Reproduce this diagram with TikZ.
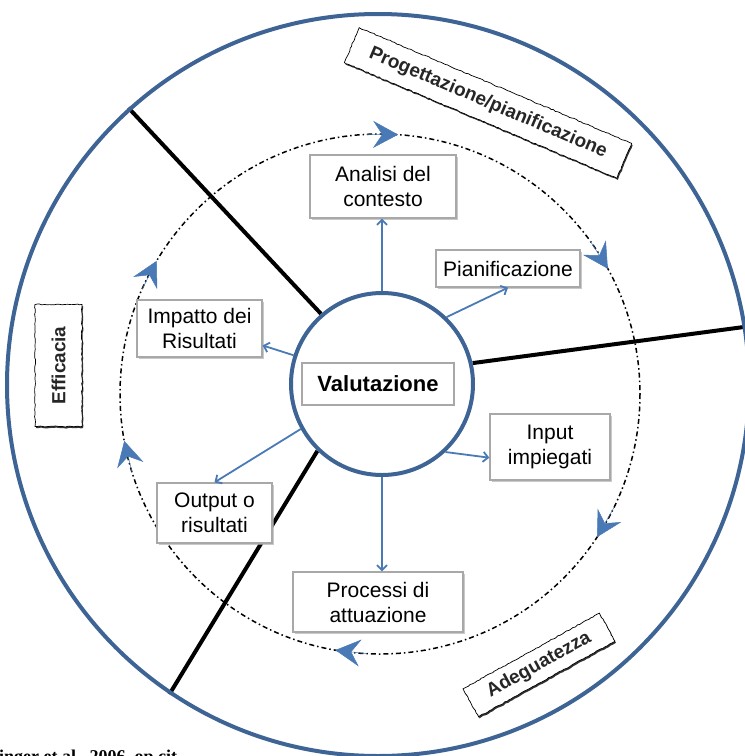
\documentclass[tikz,border=0pt]{standalone}
\usepackage{fontspec}
\setmainfont{Liberation Sans}
\newfontfamily\citefont{Liberation Serif}
\usetikzlibrary{arrows.meta,shadows,decorations.pathmorphing,calc,backgrounds}
\definecolor{ringblue}{HTML}{3D6494}
\definecolor{arrblue}{HTML}{4A7AB6}
\definecolor{boxgray}{HTML}{A8A8A8}
\pgfmathsetseed{7}
\begin{document}
\begin{tikzpicture}[x=1pt,y=-1pt,
  boxnode/.style={draw=boxgray,line width=1.3pt,fill=white,align=center,inner sep=0pt,text=black,
    font=\fontsize{21}{25}\selectfont,
    drop shadow={shadow xshift=2pt,shadow yshift=-2pt,fill=black!30,opacity=0.7}},
  tag/.style={draw=black,line width=0.7pt,fill=white,inner sep=0pt,
    font=\bfseries\fontsize{19}{21}\selectfont,text=black!85,
    decorate,decoration={random steps,segment length=2.5pt,amplitude=0.5pt},
    drop shadow={shadow xshift=1pt,shadow yshift=-1.6pt,fill=black!80,opacity=1}},
  conn/.style={draw=arrblue,line width=1.8pt,-{Straight Barb[length=5pt,width=10pt]}},
  bigtip/.style={draw=arrblue,line width=0.5pt,-{Stealth[length=25pt,width=27pt,inset=9pt,fill=arrblue]}},
  divider/.style={draw=black,line width=4pt},
  ring/.style={draw=ringblue,line width=4pt,circle,inner sep=0pt},
  dashdot/.style={draw=black,line width=1.5pt,dash pattern=on 5pt off 3pt on 1.5pt off 3pt}]
\useasboundingbox (0,0) rectangle (745,756);

% outer ring
\node[ring,minimum size=742pt] (outer) at (378,385) {};
% dash-dot ring
\coordinate (dc) at (380,394);
\draw[dashdot] (dc) circle (260);
% inner circle
\node[ring,fill=white,minimum size=182pt] (vc) at (382,384) {};

% dividers (behind the inner circle)
\begin{scope}[on background layer]
  \draw[divider] (vc.131) -- (outer.132);
  \draw[divider] (vc.13) -- (outer.9.3);
  \draw[divider] (vc.226.6) -- (outer.236);
\end{scope}

% arrow heads on the dash-dot ring (clockwise)
\draw[bigtip] ($(dc)+(-93:260)$) -- ($(dc)+(-86:260)$);
\draw[bigtip] ($(dc)+(-36:260)$) -- ($(dc)+(-28.8:260)$);
\draw[bigtip] ($(dc)+(26:260)$) -- ($(dc)+(33.4:260)$);
\draw[bigtip] ($(dc)+(93:260)$) -- ($(dc)+(99.9:260)$);
\draw[bigtip] ($(dc)+(162.5:260)$) -- ($(dc)+(169.6:260)$);
\draw[bigtip] ($(dc)+(203.8:260)$) -- ($(dc)+(210.8:260)$);

% centre label
\node[draw=boxgray,line width=1.8pt,fill=white,minimum width=152pt,minimum height=42pt,inner sep=0pt,
  font=\bfseries\fontsize{22}{24}\selectfont] (val) at (378,384) {Valutazione};

% boxes
\node[boxnode,minimum width=146pt,minimum height=63pt] (ana) at (383,186.5) {Analisi del\\contesto};
\node[boxnode,minimum width=144pt,minimum height=37pt] (pian) at (508,268.5) {Pianificazione};
\node[boxnode,minimum width=125pt,minimum height=57pt] (imp) at (199.5,328.5) {Impatto dei\\Risultati};
\node[boxnode,minimum width=120pt,minimum height=66pt] (inp) at (550,447) {Input\\impiegati};
\node[boxnode,minimum width=115pt,minimum height=60pt] (out) at (214.5,513) {Output o\\risultati};
\node[boxnode,minimum width=170pt,minimum height=60pt] (proc) at (378,602) {Processi di\\attuazione};

% connectors
\draw[conn] (vc.90) -- (vc.90 |- ana.south);
\draw[conn] (vc.46) -- (pian.south);
\draw[conn] (vc.162) -- (imp.-15);
\draw[conn] (vc.-47.5) -- (inp.190);
\draw[conn] (vc.209.7) -- (out.north);
\draw[conn] (vc.270) -- (vc.270 |- proc.north);

% ring labels
\node[tag,rotate=-23,minimum width=296pt,minimum height=38pt] (prog) at (488,103) {Progettazione/pianificazione};
\node[tag,rotate=90,minimum width=122pt,minimum height=47pt] (eff) at (58.5,365.5) {Efficacia};
\node[tag,rotate=29,minimum width=156pt,minimum height=32pt] (adeg) at (539,665) {Adeguatezza};

% cut-off citation
\node[anchor=base west,inner sep=0pt,font=\citefont\bfseries\fontsize{18}{20}\selectfont] (cite) at (-1,762) {inger et al., 2006, op.cit.};
\end{tikzpicture}
\end{document}
